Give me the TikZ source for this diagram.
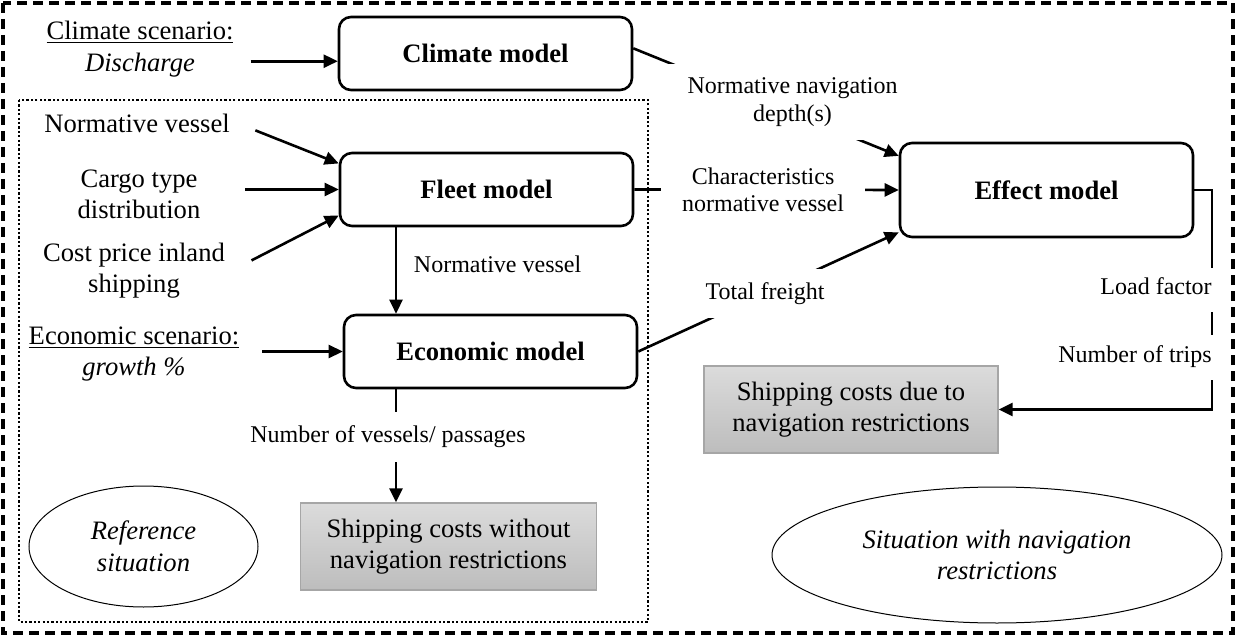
\documentclass[tikz,border=0pt]{standalone}
\usepackage{fontspec}
\setmainfont{Liberation Serif}
\usetikzlibrary{shapes.geometric, arrows.meta}

\newcommand{\figfont}{\fontsize{13.3}{15.8}\selectfont}
\newcommand{\lblfont}{\fontsize{12}{13.8}\selectfont}

\tikzset{
  model/.style={draw, line width=1.3pt, rounded corners=6pt, minimum width=146.5pt,
    minimum height=36.5pt, inner sep=0pt, font=\figfont\bfseries},
  costbox/.style={draw=black!35, line width=0.7pt, top color=black!14, bottom color=black!26,
    minimum width=148pt, minimum height=43.5pt, inner sep=0pt, align=center},
  situation/.style={draw, ellipse, line width=0.5pt, inner sep=0pt, align=center,
    font=\figfont\itshape},
  txt/.style={align=center},
  arr/.style={line width=1.3pt, -{Triangle[length=7pt, width=6.5pt]}},
  gap/.style={fill=white, align=center, font=\lblfont},
  sidelbl/.style={gap, anchor=east, inner xsep=0.5pt, inner ysep=6.5pt, xshift=1pt,
    text height=0.7em, text depth=0.22em},
}

\begin{document}
\begin{tikzpicture}[x=0.5pt, y=-0.5pt, font=\figfont]
    \useasboundingbox (0,0) rectangle (1236,636);
    % frames
    \draw[line width=2pt, dash pattern=on 5pt off 3pt] (3,3) rectangle (1233,633);
    \draw[line width=1.1pt, dash pattern=on 1.1pt off 1.1pt] (19,100) rectangle (648,622);

    % models
    \node[model] (climate) at (485.5,53.5) {Climate model};
    \node[model] (fleet) at (486.5,189.5) {Fleet model};
    \node[model] (economic) at (490.5,351.5) {Economic model};
    \node[model, minimum height=47pt] (effect) at (1046.5,190) {Effect model};

    % inputs
    \node[txt] (climsc) at (140,49) {\underline{Climate scenario:}\\\textit{Discharge}};
    \node (normves) at (137,123) {Normative vessel};
    \node[txt] (cargo) at (139,194.5) {Cargo type\\distribution};
    \node[txt] (costprice) at (134,270.5) {Cost price inland\\shipping};
    \node[txt] (econsc) at (134,354) {\underline{Economic scenario:}\\\textit{growth \%}};

    % outcomes
    \node[costbox] (costref) at (448.5,546.5) {Shipping costs without\\navigation restrictions};
    \node[costbox, minimum width=147pt] (costnav) at (851,409.5) {Shipping costs due to\\navigation restrictions};
    \node[situation, minimum width=114.5pt, minimum height=60.5pt] (refsit) at (143.5,546.5) {Reference\\situation};
    \node[situation, minimum width=225pt, minimum height=68pt] (navsit) at (997,555) {Situation with navigation\\restrictions};

    \coordinate (vline) at (396,0);
    \coordinate (rline) at (1212,0);

    % connectors
    \draw[arr, shorten <=5pt] (climsc.east |- climate.183) -- (climate.183);
    \draw[arr, shorten <=10pt] (normves.east) -- (fleet.170);
    \draw[arr, shorten <=19pt] (cargo.east |- fleet.west) -- (fleet.west);
    \draw[arr, shorten <=11pt] (costprice.east) -- (fleet.190);
    \draw[arr, shorten <=8pt] (econsc.east |- economic.west) -- (economic.west);
    \draw[arr] (fleet.south -| vline) -- node[right, xshift=5pt, pos=0.43, font=\lblfont] {Normative vessel} (economic.north -| vline);
    \draw[arr] (economic.south -| vline) -- node[gap, pos=0.42, inner ysep=7pt, xshift=-4pt] {Number of vessels/ passages} (costref.north -| vline);
    \draw[arr] (climate.2) -- node[gap, pos=0.6, yshift=5.5pt, inner xsep=11pt, inner ysep=7pt] {Normative navigation\\depth(s)} (effect.167);
    \draw[arr] (fleet.east) -- node[gap, pos=0.487, inner xsep=10.5pt] {Characteristics\\normative vessel} (effect.west);
    \draw[arr] (economic.east) -- node[gap, pos=0.487, inner xsep=2pt, inner ysep=6.5pt] {Total freight} (effect.196);
    \draw[arr] (effect.east) -- (effect.east -| rline)
        -- node[sidelbl, pos=0.456] {Load factor} node[sidelbl, pos=0.763] {Number of trips} (costnav.east -| rline)
        -- (costnav.east);
\end{tikzpicture}
\end{document}
